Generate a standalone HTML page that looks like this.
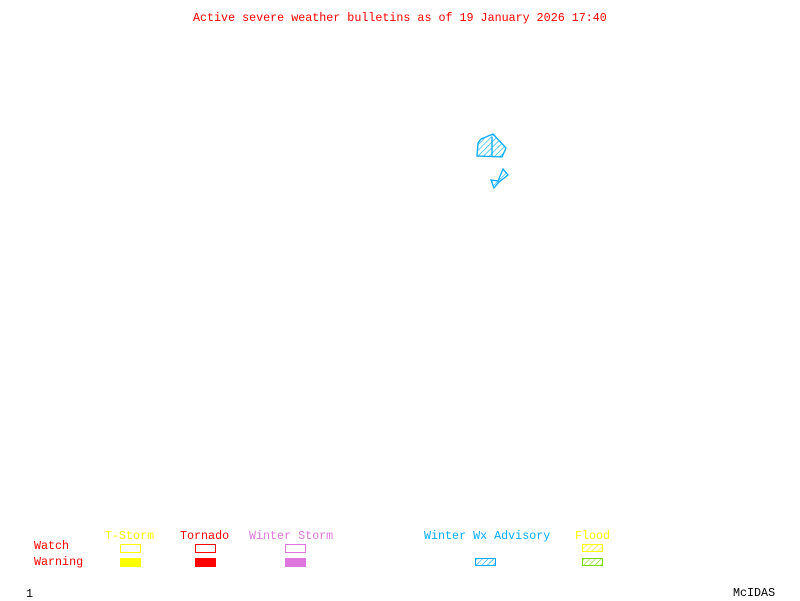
<!DOCTYPE html>
<html><head><style>
html,body{margin:0;padding:0;background:#fff;}
body{width:800px;height:600px;position:relative;overflow:hidden;font-family:"Liberation Mono","DejaVu Sans Mono",monospace;font-size:11.7px;}
.t{position:absolute;white-space:pre;line-height:12px;}
.b{position:absolute;width:19px;height:7px;border:1px solid;}
</style></head><body>
<div class="t" style="left:193px;top:12px;color:#f00">Active severe weather bulletins as of 19 January 2026 17:40</div>
<svg width="800" height="600" style="position:absolute;left:0;top:0">
<defs>
<pattern id="h" width="4" height="4" patternUnits="userSpaceOnUse" patternTransform="rotate(45)"><line x1="0" y1="0" x2="0" y2="4" stroke="#0af" stroke-width="1.2"/></pattern>
<pattern id="hy" width="4" height="4" patternUnits="userSpaceOnUse" patternTransform="rotate(45)"><line x1="0" y1="0" x2="0" y2="4" stroke="#ff0" stroke-width="1.2"/></pattern>
<pattern id="hg" width="4" height="4" patternUnits="userSpaceOnUse" patternTransform="rotate(45)"><line x1="0" y1="0" x2="0" y2="4" stroke="#7d0" stroke-width="1.2"/></pattern>
</defs>
<polygon points="481,139 493,134 506,148 502,157 477,156 478,143" fill="url(#h)" stroke="#0af" stroke-width="1.3"/>
<line x1="492" y1="137" x2="492" y2="157" stroke="#0af" stroke-width="1.3"/>
<polygon points="491,180 498,181 503,169 508,175 499,182 494,188" fill="url(#h)" stroke="#0af" stroke-width="1.3"/>
<rect x="475.5" y="558.5" width="20" height="7" fill="url(#h)" stroke="#0af"/>
<rect x="582.5" y="544.5" width="20" height="7" fill="url(#hy)" stroke="#ff0"/>
<rect x="582.5" y="558.5" width="20" height="7" fill="url(#hg)" stroke="#7d0"/>
</svg>
<div class="t" style="left:105px;top:530px;color:#ff0">T-Storm</div>
<div class="t" style="left:180px;top:530px;color:#f00">Tornado</div>
<div class="t" style="left:249px;top:530px;color:#d7d">Winter Storm</div>
<div class="t" style="left:424px;top:530px;color:#0af">Winter Wx Advisory</div>
<div class="t" style="left:575px;top:530px;color:#ff0">Flood</div>
<div class="t" style="left:34px;top:540px;color:#f00">Watch</div>
<div class="t" style="left:34px;top:556px;color:#f00">Warning</div>
<div class="b" style="left:120px;top:544px;border-color:#ff0"></div>
<div class="b" style="left:120px;top:558px;border-color:#ff0;background:#ff0"></div>
<div class="b" style="left:195px;top:544px;border-color:#f00"></div>
<div class="b" style="left:195px;top:558px;border-color:#f00;background:#f00"></div>
<div class="b" style="left:285px;top:544px;border-color:#d7d"></div>
<div class="b" style="left:285px;top:558px;border-color:#d7d;background:#d7d"></div>
<div class="t" style="left:26px;top:588px;color:#000">1</div>
<div class="t" style="left:733px;top:587px;color:#000">McIDAS</div>
</body></html>
